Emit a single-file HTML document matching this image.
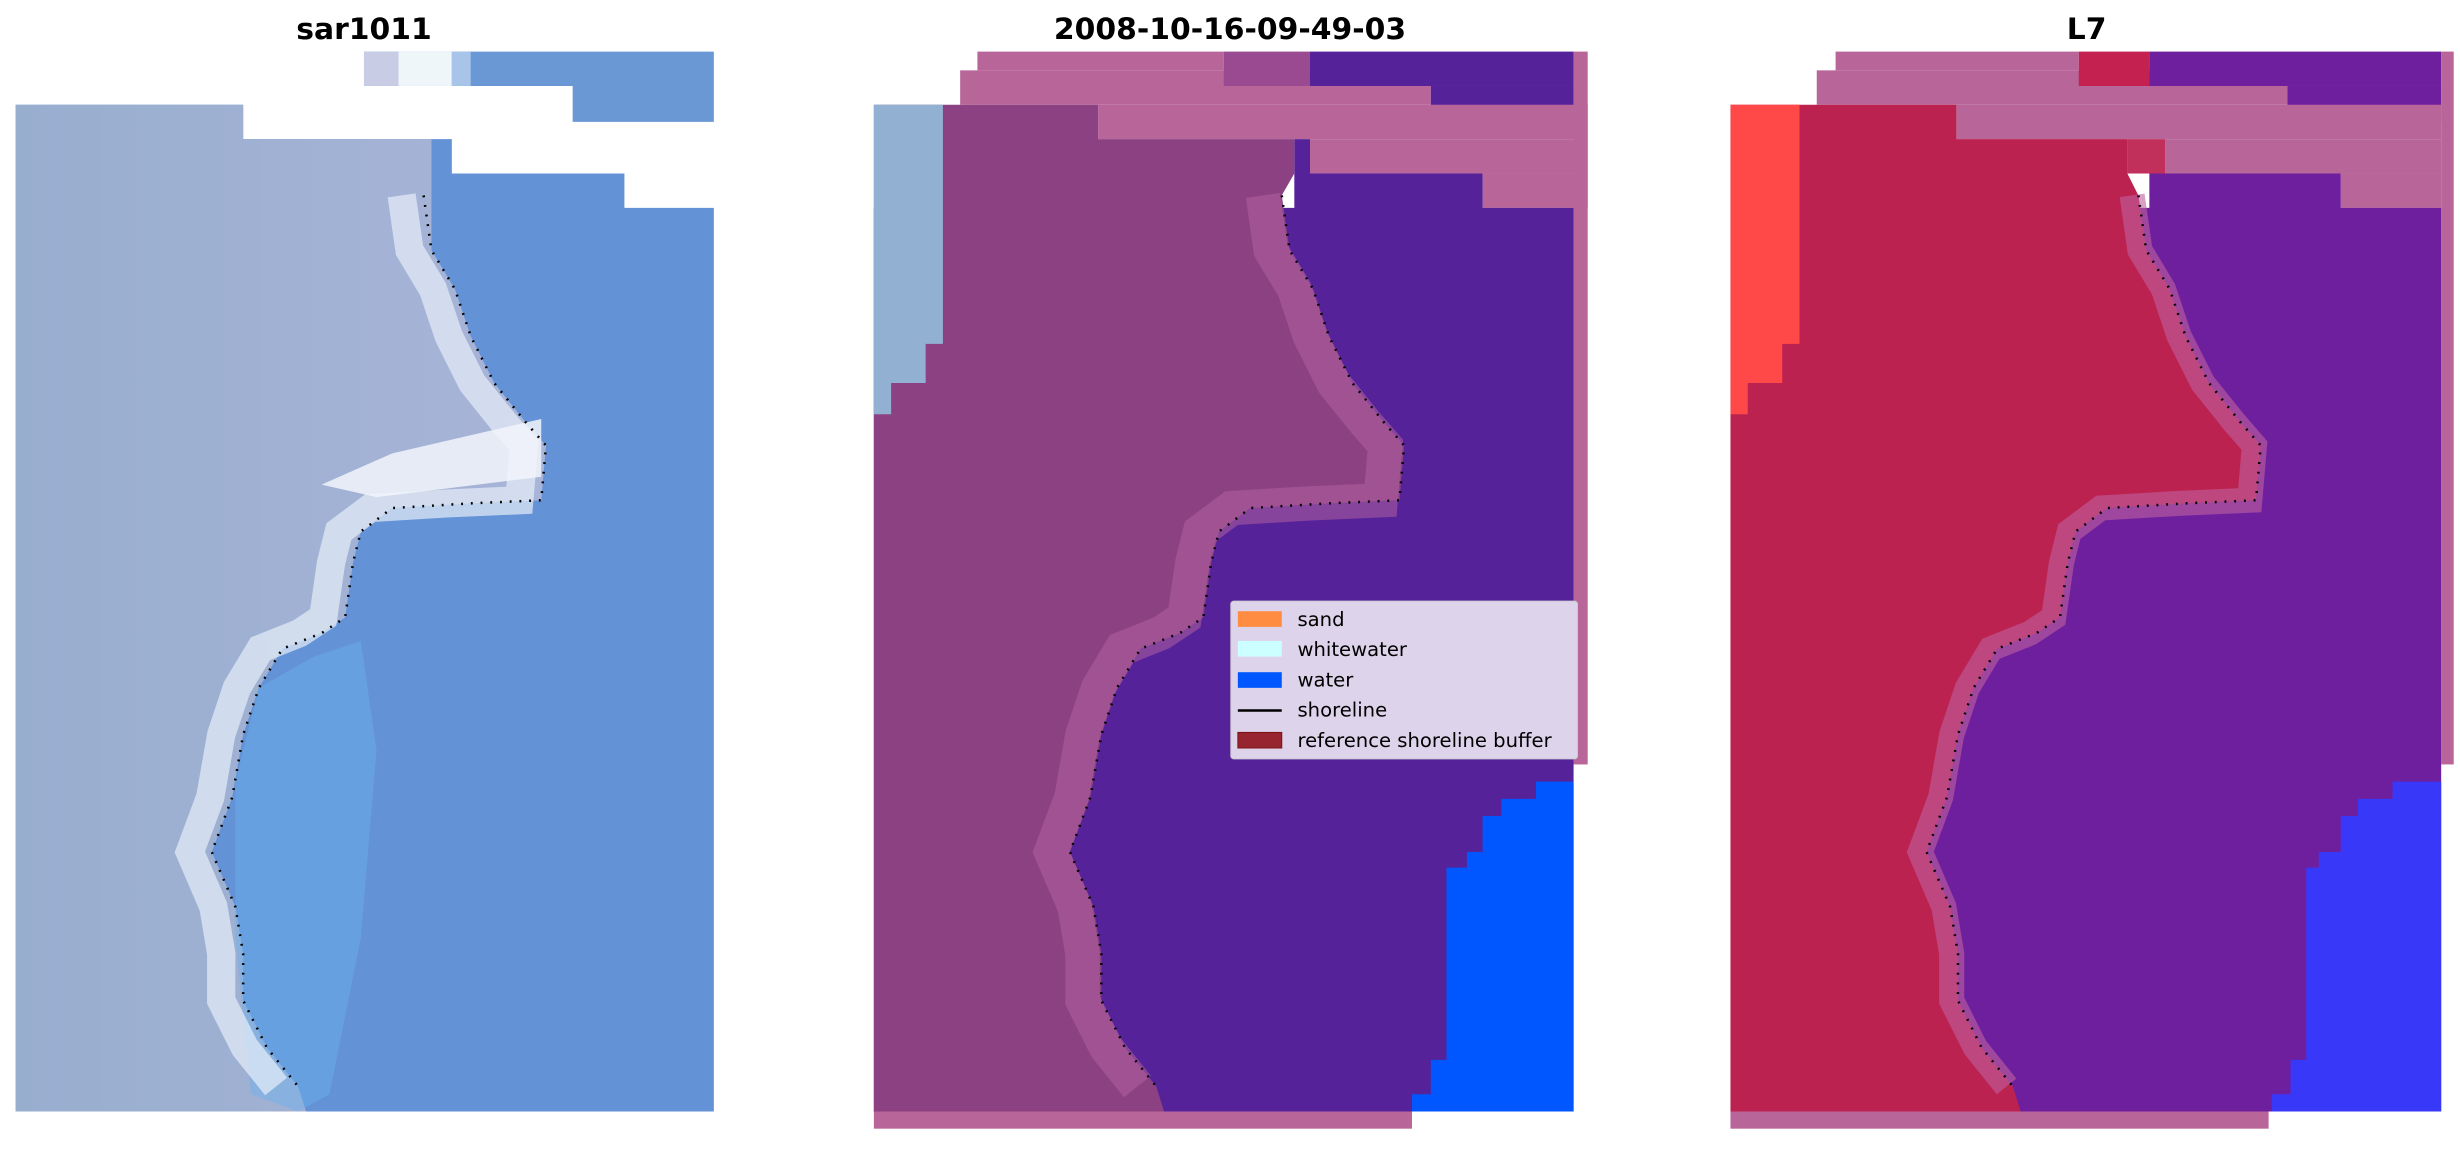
<!DOCTYPE html>
<html><head><meta charset="utf-8"><style>
html,body{margin:0;padding:0;background:#fff;}
svg{display:block;}
</style></head><body>
<svg width="2460" height="1149" viewBox="0 0 1568 735" preserveAspectRatio="none" xmlns="http://www.w3.org/2000/svg">
<defs>
<polyline id="shore" fill="none" points="270,125 275,160 290,185 300,215 315,245 335,270 348,285 345,320 300,322 250,325 230,340 225,360 220,395 205,405 180,415 165,440 155,470 148,510 135,545 150,580 155,610 155,640 170,670 190,695"/>
<linearGradient id="lw" x1="0" x2="1" y1="0" y2="0">
<stop offset="0" stop-color="#98aecf"/><stop offset="1" stop-color="#a8b4d8"/></linearGradient>
</defs>
<g font-family="'DejaVu Sans','Liberation Sans',sans-serif" font-weight="bold" font-size="19" text-anchor="middle">
<text x="232" y="25">sar1011</text>
<text x="784" y="25">2008-10-16-09-49-03</text>
<text x="1330" y="25">L7</text>
</g>

<!-- Panel 1 -->
<g>
<polygon fill="#6a98d4" points="232,33 455,33 455,78 365,78 365,55 232,55"/>
<rect x="232" y="33" width="22" height="22" fill="#c8cce4"/>
<rect x="254" y="33" width="34" height="22" fill="#eef6fa"/>
<rect x="288" y="33" width="12" height="22" fill="#a8c4e8"/>
<polygon fill="#6392d6" points="10,67 155,67 155,89 288,89 288,111 398,111 398,133 455,133 455,711 10,711"/>
<polygon fill="url(#lw)" points="10,67 155,67 155,89 275,89 275,125 275,160 290,185 300,215 315,245 335,270 348,285 345,320 300,322 250,325 230,340 225,360 220,395 205,405 180,415 165,440 155,470 148,510 135,545 150,580 155,610 155,640 170,670 190,695 195,711 10,711"/>
<polygon fill="#6cb2ee" opacity="0.45" points="165,440 200,420 230,410 240,480 230,600 210,700 190,711 160,700 150,600 150,500"/>
<use href="#shore" stroke="#e6eef8" stroke-width="18" opacity="0.7" transform="translate(-14,0)"/>
<polygon fill="#f2f4fa" opacity="0.85" points="205,310 250,290 345,268 345,305 240,318"/>
<use href="#shore" stroke="#000" stroke-width="1.6" stroke-dasharray="1.2 5"/>
</g>

<!-- Panel 2 -->
<g>
<rect x="623" y="33" width="157" height="12" fill="#b8669a"/>
<rect x="612" y="45" width="300" height="22" fill="#b8669a"/>
<rect x="780" y="33" width="55" height="22" fill="#9a4a90"/>
<rect x="835" y="33" width="168" height="22" fill="#55229a"/>
<rect x="912" y="55" width="91" height="23" fill="#55229a"/>
<rect x="700" y="67" width="312" height="22" fill="#b8669a"/>
<rect x="835" y="89" width="177" height="22" fill="#b8669a"/>
<rect x="945" y="111" width="67" height="22" fill="#b8669a"/>
<rect x="1003" y="33" width="9" height="456" fill="#b8669a"/>
<rect x="825" y="89" width="10" height="22" fill="#55229a"/>
<polygon fill="#55229a" points="825,111 945,111 945,133 1003,133 1003,711 557,711 557,133 825,133"/>
<polygon fill="#8c4282" points="557,67 700,67 700,89 825,89 825,111 817,125 822,160 837,185 847,215 862,245 882,270 895,285 892,320 847,322 797,325 777,340 772,360 767,395 752,405 727,415 712,440 702,470 695,510 682,545 697,580 702,610 702,640 717,670 737,695 742,711 557,711"/>
<use href="#shore" stroke="#b060a0" stroke-width="22" opacity="0.55" transform="translate(535,0)"/>
<polygon fill="#92b0d2" points="557,67 601,67 601,220 590,220 590,245 568,245 568,265 557,265"/>
<rect x="557" y="711" width="343" height="11" fill="#b8669a"/>
<polygon fill="#0057ff" points="1003,500 1003,711 900,711 900,700 912,700 912,678 922,678 922,555 935,555 935,545 945,545 945,522 957,522 957,511 979,511 979,500"/>
<use href="#shore" stroke="#000" stroke-width="1.6" stroke-dasharray="1.2 5" transform="translate(547,0)"/>
<rect x="784.5" y="384.5" width="221" height="101" rx="2" fill="#ddd3ea" stroke="#ccc" stroke-width="0.6"/>
<rect x="789" y="391" width="28" height="10" fill="#ff8c40"/>
<rect x="789" y="410" width="28" height="10" fill="#ccffff"/>
<rect x="789" y="430" width="28" height="10" fill="#0057ff"/>
<line x1="789" y1="454.5" x2="817" y2="454.5" stroke="#000" stroke-width="1.6"/>
<rect x="789" y="468.5" width="28" height="10" fill="#962530" stroke="#7a1010" stroke-width="0.6"/>
<g font-family="'DejaVu Sans','Liberation Sans',sans-serif" font-size="12.5" fill="#000">
<text x="827" y="400.5">sand</text>
<text x="827" y="419.5">whitewater</text>
<text x="827" y="439">water</text>
<text x="827" y="458.5">shoreline</text>
<text x="827" y="478">reference shoreline buffer</text>
</g>
</g>

<!-- Panel 3 -->
<g>
<rect x="1170" y="33" width="155" height="12" fill="#b8669a"/>
<rect x="1158" y="45" width="300" height="22" fill="#b8669a"/>
<rect x="1325" y="33" width="45" height="22" fill="#c42050"/>
<rect x="1370" y="33" width="186" height="22" fill="#6e1f9e"/>
<rect x="1458" y="55" width="98" height="23" fill="#6e1f9e"/>
<rect x="1247" y="67" width="309" height="22" fill="#b8669a"/>
<rect x="1380" y="89" width="176" height="22" fill="#b8669a"/>
<rect x="1492" y="111" width="64" height="22" fill="#b8669a"/>
<rect x="1556" y="33" width="8" height="456" fill="#b8669a"/>
<polygon fill="#6e1f9e" points="1370,111 1492,111 1492,133 1556,133 1556,711 1106,711 1106,133 1370,133"/>
<rect x="1356" y="89" width="24" height="22" fill="#c0305a"/>
<polygon fill="#bc2250" points="1103,67 1247,67 1247,89 1356,89 1356,111 1363,125 1368,160 1383,185 1393,215 1408,245 1428,270 1441,285 1438,320 1393,322 1343,325 1323,340 1318,360 1313,395 1298,405 1273,415 1258,440 1248,470 1241,510 1228,545 1243,580 1248,610 1248,640 1263,670 1283,695 1288,711 1103,711"/>
<polygon fill="#ff4848" points="1103,67 1147,67 1147,220 1136,220 1136,245 1114,245 1114,265 1103,265"/>
<use href="#shore" stroke="#c060a0" stroke-width="16" opacity="0.6" transform="translate(1089,0)"/>
<rect x="1103" y="711" width="343" height="11" fill="#b8669a"/>
<polygon fill="#3838f8" points="1556,500 1556,711 1448,711 1448,700 1460,700 1460,678 1470,678 1470,555 1478,555 1478,545 1492,545 1492,522 1503,522 1503,511 1525,511 1525,500"/>
<use href="#shore" stroke="#000" stroke-width="1.6" stroke-dasharray="1.2 5" transform="translate(1093,0)"/>
</g>
</svg>
</body></html>
